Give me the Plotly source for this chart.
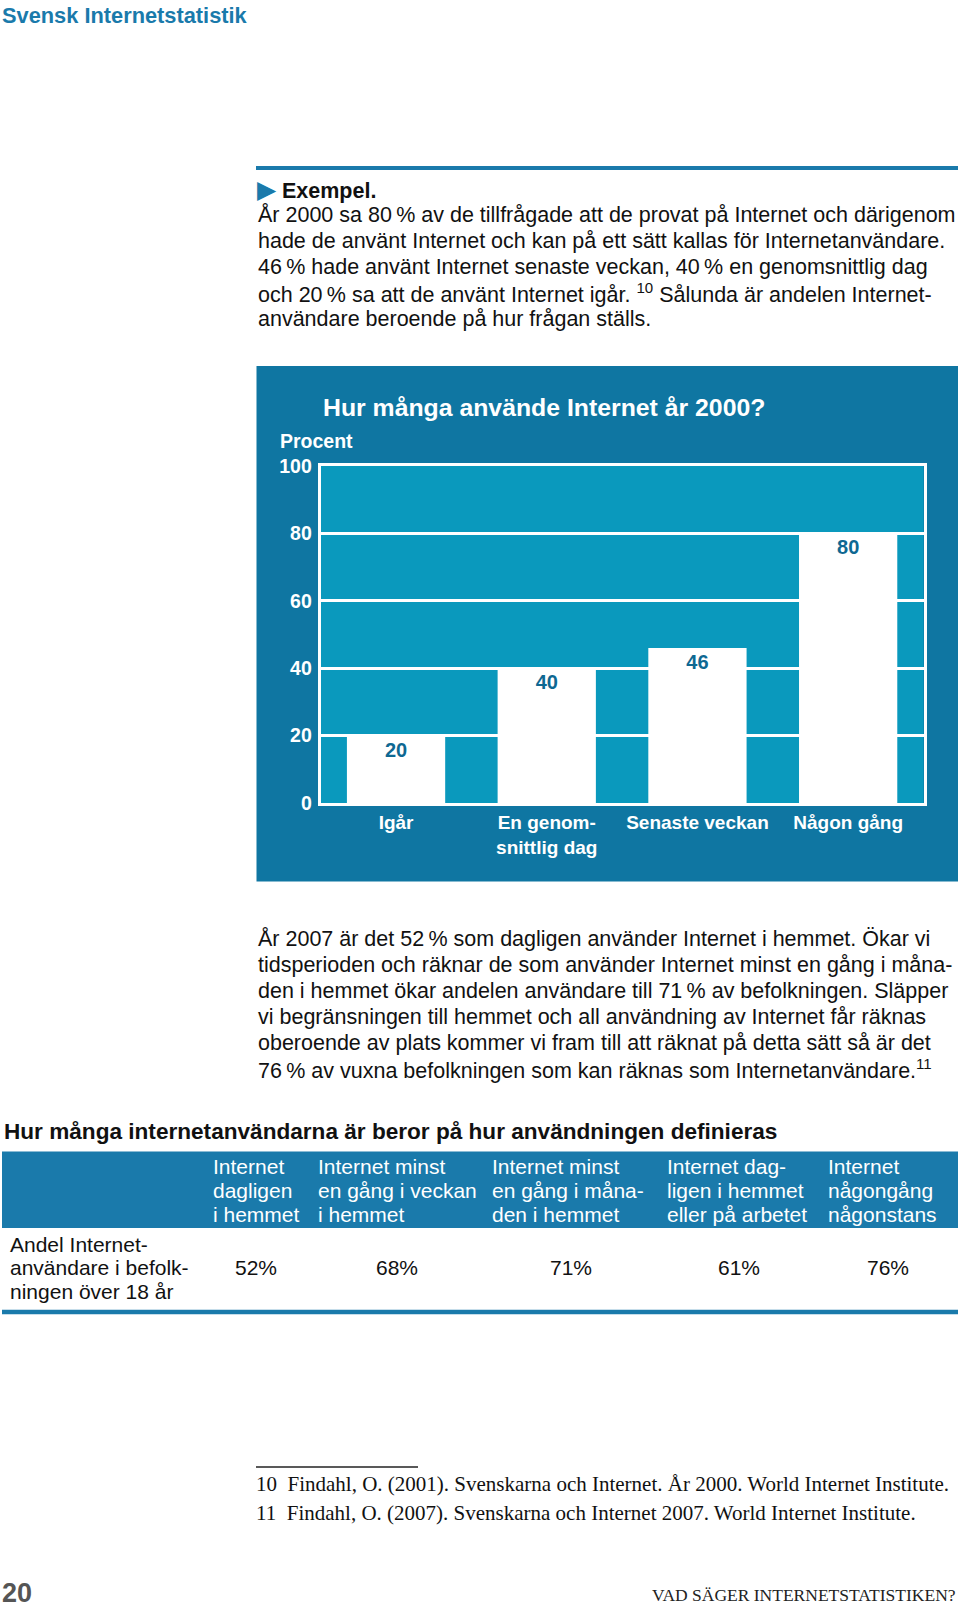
import plotly.graph_objects as go

W, H = 960, 1607

# ---------------- data ----------------
categories = ["Igår", "En genom-<br>snittlig dag", "Senaste veckan", "Någon gång"]
values = [20, 40, 46, 80]
y_tick_vals = [0, 20, 40, 60, 80, 100]
y_tick_text = ["0", "20", "40", "60", "80", "100"]

chart_title = "Hur många använde Internet år 2000?"
y_title = "Procent"

page_header = "Svensk Internetstatistik"

intro_lines = [
    "År 2000 sa 80\u2009% av de tillfrågade att de provat på Internet och därigenom",
    "hade de använt Internet och kan på ett sätt kallas för Internetanvändare.",
    "46\u2009% hade använt Internet senaste veckan, 40\u2009% en genomsnittlig dag",
    "och 20\u2009% sa att de använt Internet igår. <sup>10</sup> Sålunda är andelen Internet-",
    "användare beroende på hur frågan ställs.",
]

body_lines = [
    "År 2007 är det 52\u2009% som dagligen använder Internet i hemmet. Ökar vi",
    "tidsperioden och räknar de som använder Internet minst en gång i måna-",
    "den i hemmet ökar andelen användare till 71\u2009% av befolkningen. Släpper",
    "vi begränsningen till hemmet och all användning av Internet får räknas",
    "oberoende av plats kommer vi fram till att räknat på detta sätt så är det",
    "76\u2009% av vuxna befolkningen som kan räknas som Internetanvändare.<sup>11</sup>",
]

table_title = "Hur många internetanvändarna är beror på hur användningen definieras"
table_headers = [
    ["Internet", "dagligen", "i hemmet"],
    ["Internet minst", "en gång i veckan", "i hemmet"],
    ["Internet minst", "en gång i måna-", "den i hemmet"],
    ["Internet dag-", "ligen i hemmet", "eller på arbetet"],
    ["Internet", "någongång", "någonstans"],
]
table_row_label = ["Andel Internet-", "användare i befolk-", "ningen över 18 år"]
table_values = ["52%", "68%", "71%", "61%", "76%"]

footnotes = [
    "10  Findahl, O. (2001). Svenskarna och Internet. År 2000. World Internet Institute.",
    "11  Findahl, O. (2007). Svenskarna och Internet 2007. World Internet Institute.",
]
page_number = "20"
running_footer = "VAD SÄGER INTERNETSTATISTIKEN?"

# ---------------- styling ----------------
BLUE = "#1a7aab"
PANEL = "#0f76a2"
PLOTBG = "#0a99bd"
LABEL_BLUE = "#0e6892"
SANS = "Liberation Sans, Arial, sans-serif"
SERIF = "Liberation Serif, Times New Roman, serif"


def px(x):
    return x / W


def py(y):
    return 1 - y / H


plot_x0, plot_x1 = 320.7, 923.5
plot_y0, plot_y1 = 466.0, 803.0

fig = go.Figure()
fig.add_trace(go.Bar(
    x=categories,
    y=values,
    marker=dict(color="white", line=dict(width=0)),
    texttemplate="%{y}",
    textposition="inside",
    insidetextanchor="end",
    textangle=0,
    textfont=dict(family=SANS, size=20, color=LABEL_BLUE, weight="bold"),
    hoverinfo="skip",
))

shapes = [
    # top rule
    dict(type="line", xref="paper", yref="paper", x0=px(256), x1=px(958),
         y0=py(168), y1=py(168), line=dict(color=BLUE, width=4)),
    # chart panel
    dict(type="rect", xref="paper", yref="paper", x0=px(256.5), x1=px(958),
         y0=py(881.5), y1=py(366), fillcolor=PANEL, line=dict(width=0), layer="below"),
    # plot area
    dict(type="rect", xref="paper", yref="paper", x0=px(plot_x0), x1=px(plot_x1),
         y0=py(plot_y1), y1=py(plot_y0), fillcolor=PLOTBG, line=dict(width=0), layer="below"),
    # table header band
    dict(type="rect", xref="paper", yref="paper", x0=px(2), x1=px(958),
         y0=py(1228), y1=py(1151.5), fillcolor=BLUE, line=dict(width=0), layer="below"),
    # table bottom rule
    dict(type="line", xref="paper", yref="paper", x0=px(2), x1=px(958),
         y0=py(1312), y1=py(1312), line=dict(color=BLUE, width=4.5)),
    # footnote rule
    dict(type="line", xref="paper", yref="paper", x0=px(256), x1=px(418),
         y0=py(1467), y1=py(1467), line=dict(color="#222", width=1.3)),
]

ann = []


def text(x, y, s, size, color="#111", family=SANS, xanchor="left", bold=False):
    if bold:
        s = "<b>" + s + "</b>"
    ann.append(dict(x=px(x), y=py(y), xref="paper", yref="paper", text=s,
                    showarrow=False, xanchor=xanchor, yanchor="middle",
                    font=dict(family=family, size=size, color=color), align="left"))


# page header
text(0, 15, page_header, 21.8, color=BLUE, bold=True)

# intro
ann.append(dict(x=px(255), y=py(189), xref="paper", yref="paper",
                text='<span style="color:%s;font-size:25px">▶</span> <b>Exempel.</b>' % BLUE,
                showarrow=False, xanchor="left", yanchor="middle",
                font=dict(family=SANS, size=21.5, color="#111")))
for i, line in enumerate(intro_lines):
    text(256, 215.2 + i * 25.9, line, 21.5)

# chart texts
text(320.5, 407, chart_title, 24.8, color="white", bold=True)
text(277.5, 441, y_title, 19.5, color="white", bold=True)

# body
for i, line in enumerate(body_lines):
    text(256, 938.6 + i * 26.0, line, 21.5)

# table
text(2, 1131.5, table_title, 22.6, color="#111", bold=True)
col_x = [211, 315.5, 490, 665, 826]
for cx, lines in zip(col_x, table_headers):
    for j, line in enumerate(lines):
        text(cx, 1166 + j * 24.2, line, 21, color="white")
for j, line in enumerate(table_row_label):
    text(8, 1244 + j * 23.5, line, 21)
val_cx = [256, 396.5, 570.6, 738.6, 888]
for cx, v in zip(val_cx, table_values):
    text(cx, 1267.5, v, 21, xanchor="center")

# footnotes
for i, line in enumerate(footnotes):
    text(254, 1483.5 + i * 29.7, line, 21, color="#111", family=SERIF)

# footer
text(0, 1593, page_number, 27, color="#555", bold=True)
text(958, 1595, running_footer, 17.5, color="#222", family=SERIF, xanchor="right")

fig.update_layout(
    width=W, height=H,
    margin=dict(l=0, r=0, t=0, b=0, autoexpand=False),
    paper_bgcolor="white",
    plot_bgcolor="rgba(0,0,0,0)",
    showlegend=False,
    bargap=0.348,
    shapes=shapes,
    annotations=ann,
    xaxis=dict(
        domain=[px(plot_x0), px(plot_x1)],
        showline=True, linecolor="white", linewidth=3, mirror=True,
        showgrid=False, zeroline=False, automargin=False,
        tickfont=dict(family=SANS, size=19, color="white", weight="bold"),
        ticks="", fixedrange=True,
    ),
    yaxis=dict(
        domain=[py(plot_y1), py(plot_y0)],
        range=[0, 100],
        tickvals=y_tick_vals, ticktext=y_tick_text,
        showline=True, linecolor="white", linewidth=3, mirror=True,
        showgrid=True, gridcolor="white", gridwidth=3,
        zeroline=False, automargin=False,
        tickfont=dict(family=SANS, size=19.5, color="white", weight="bold"),
        ticks="outside", ticklen=2, tickcolor="rgba(0,0,0,0)",
        fixedrange=True,
    ),
)

fig.write_html(
    "out.html",
    config={"displayModeBar": False},
    post_script="document.body.style.margin='0';document.body.style.padding='0';"
                "document.documentElement.style.overflow='hidden';",
)
